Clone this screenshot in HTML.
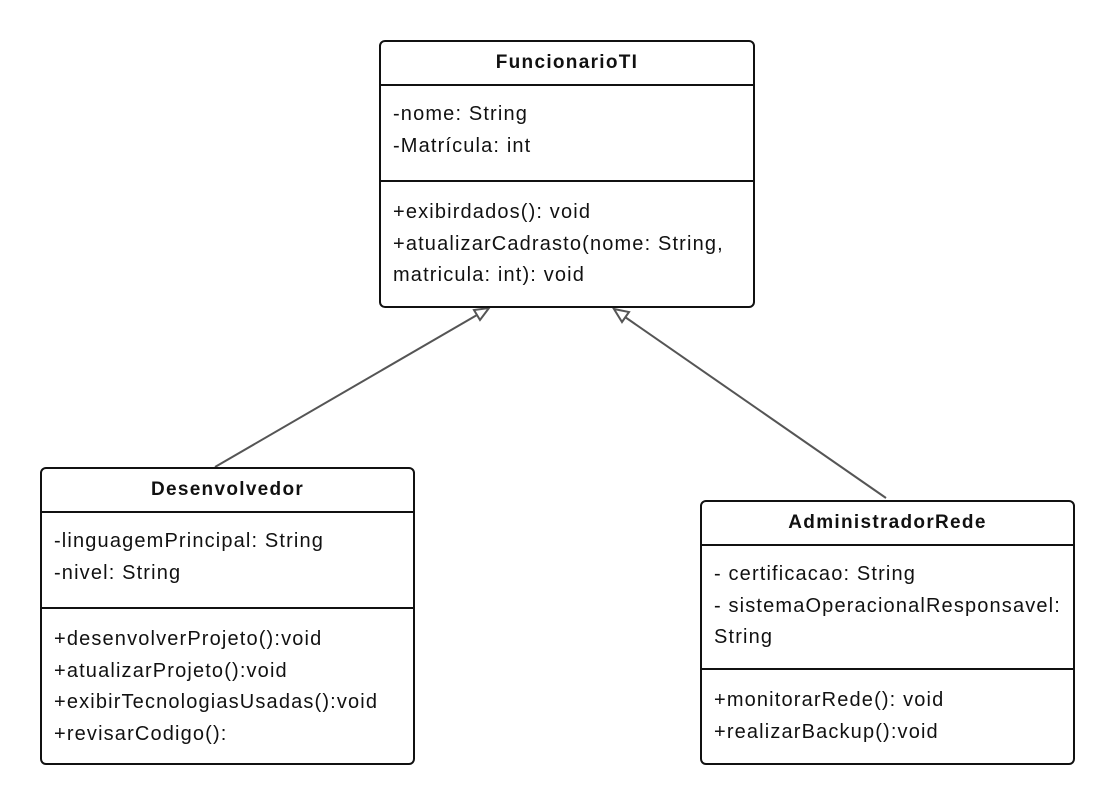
<!DOCTYPE html>
<html><head><meta charset="utf-8"><style>
body{margin:0;width:1114px;height:804px;background:#fff;position:relative;font-family:"Liberation Sans",sans-serif;color:#111;overflow:hidden}
.box{position:absolute;border:2px solid #111;border-radius:6px;box-sizing:border-box;background:#fff}
.h{font-weight:bold;text-align:center;font-size:19px;letter-spacing:1.3px;border-bottom:2px solid #111;box-sizing:border-box;display:flex;align-items:center;justify-content:center}
.s{border-bottom:2px solid #111;box-sizing:border-box;padding:0 12px;font-size:20px;letter-spacing:1.15px;line-height:31.5px;white-space:nowrap}
.s:last-child{border-bottom:none}
svg{position:absolute;left:0;top:0}
</style></head><body>
<svg width="1114" height="804">
<line x1="215" y1="467" x2="477" y2="315" stroke="#555" stroke-width="2"/>
<polygon points="489,308 480,320 474,310" fill="#fff" stroke="#555" stroke-width="2"/>
<line x1="886" y1="498" x2="625" y2="317" stroke="#555" stroke-width="2"/>
<polygon points="614,309 629,312 622,322" fill="#fff" stroke="#555" stroke-width="2"/>
</svg>
<div class="box" style="left:379px;top:40px;width:376px;height:268px">
<div class="h" style="height:44px">FuncionarioTI</div>
<div class="s" style="height:96px;padding-top:13px">-nome: String<br>-Matrícula: int</div>
<div class="s" style="padding-top:15px">+exibirdados(): void<br>+atualizarCadrasto(nome: String,<br>matricula: int): void</div>
</div>
<div class="box" style="left:40px;top:467px;width:375px;height:298px">
<div class="h" style="height:44px">Desenvolvedor</div>
<div class="s" style="height:96px;padding-top:13px">-linguagemPrincipal: String<br>-nivel: String</div>
<div class="s" style="padding-top:15px">+desenvolverProjeto():void<br>+atualizarProjeto():void<br>+exibirTecnologiasUsadas():void<br>+revisarCodigo():</div>
</div>
<div class="box" style="left:700px;top:500px;width:375px;height:265px">
<div class="h" style="height:44px">AdministradorRede</div>
<div class="s" style="height:124px;padding-top:13px">- certificacao: String<br>- sistemaOperacionalResponsavel:<br>String</div>
<div class="s" style="padding-top:15px">+monitorarRede(): void<br>+realizarBackup():void</div>
</div>
</body></html>
